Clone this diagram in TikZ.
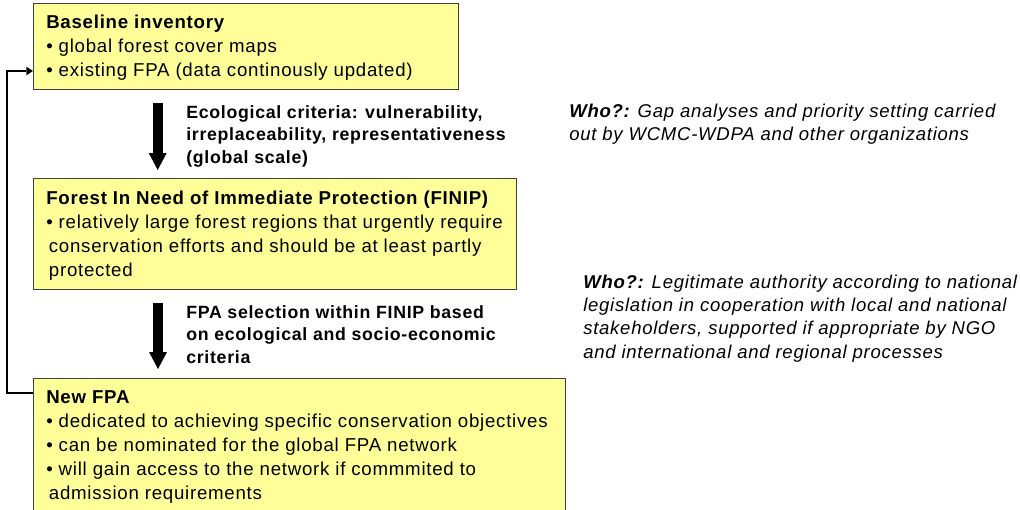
\documentclass[tikz,border=0pt]{standalone}
\usepackage{fontspec}
\setmainfont{Liberation Sans}[LetterSpace=4]
\usetikzlibrary{arrows.meta,calc}
\definecolor{boxfill}{RGB}{255,255,153}
\definecolor{boxline}{RGB}{64,64,64}
\begin{document}
\begin{tikzpicture}[x=0.75pt,y=-0.75pt,
  box/.style={draw=boxline, line width=0.9pt, fill=boxfill, anchor=north west, inner sep=0pt},
  boxtext/.style={anchor=base west, inner sep=0pt, font=\fontsize{14pt}{18pt}\selectfont},
  lbltext/.style={anchor=base west, inner sep=0pt, font=\bfseries\fontsize{13.3pt}{17pt}\selectfont},
  whotext/.style={anchor=base west, inner sep=0pt, font=\itshape\fontsize{13.9pt}{17.5pt}\selectfont},
  bigarrow/.style={line width=7.5pt, -{Triangle[length=12.75pt, width=13.5pt, line width=0pt]}},
  fbline/.style={line width=1.5pt, -{Triangle[length=5pt, width=6.5pt, line width=0pt]}}]
\useasboundingbox (0,0) rectangle (1020,510);
\clip (0,0) rectangle (1020,510);

% boxes
\node[box, minimum width=318.75pt, minimum height=64.5pt] (b1) at (33,3) {};
\node[box, minimum width=362.25pt, minimum height=83.25pt] (b2) at (33,178) {};
\node[box, minimum width=399pt, minimum height=106.5pt] (b3) at (33,378) {};

% box texts
\node[boxtext] (t1) at (46,28.5) {\begin{tabular}[t]{@{}l@{}}
\textbf{Baseline inventory}\\
• global forest cover maps\\
• existing FPA (data continously updated)
\end{tabular}};
\node[boxtext] (t2) at (46,204) {\begin{tabular}[t]{@{}l@{}}
\textbf{Forest In Need of Immediate Protection (FINIP)}\\
• relatively large forest regions that urgently require\\
\hspace*{2pt}conservation efforts and should be at least partly\\
\hspace*{2pt}protected
\end{tabular}};
\node[boxtext] (t3) at (46,403) {\begin{tabular}[t]{@{}l@{}}
\textbf{New FPA}\\
• dedicated to achieving specific conservation objectives\\
• can be nominated for the global FPA network\\
• will gain access to the network if commmited to\\
\hspace*{2pt}admission requirements
\end{tabular}};

% big arrows
\coordinate (a1s) at (157.7,103);
\coordinate (a1e) at (157.7,170);
\coordinate (a2s) at (158,303);
\coordinate (a2e) at (158,369);
\draw[bigarrow] (a1s) -- (a1e);
\draw[bigarrow] (a2s) -- (a2e);

% arrow labels
\node[lbltext] (l1) at (186,118) {\begin{tabular}[t]{@{}l@{}}
Ecological criteria: vulnerability,\\
irreplaceability, representativeness\\
(global scale)
\end{tabular}};
\node[lbltext] (l2) at (186,318) {\begin{tabular}[t]{@{}l@{}}
FPA selection within FINIP based\\
on ecological and socio-economic\\
criteria
\end{tabular}};

% who texts
\node[whotext, font=\itshape\fontsize{13.9pt}{17.25pt}\selectfont] (w1) at (569,117) {\begin{tabular}[t]{@{}l@{}}
\textbf{Who?:} Gap analyses and priority setting carried\\
out by WCMC-WDPA and other organizations
\end{tabular}};
\node[whotext, font=\itshape\fontsize{13.9pt}{17.6pt}\selectfont] (w2) at (583,288) {\begin{tabular}[t]{@{}l@{}}
\textbf{Who?:} Legitimate authority according to national\\
legislation in cooperation with local and national\\
stakeholders, supported if appropriate by NGO\\
and international and regional processes
\end{tabular}};

% feedback connector
\coordinate (fbc) at (7,71);
\draw[fbline] ([yshift=-11.25pt]b3.north west) -| (fbc) -- ([yshift=-51pt]b1.north west);
\end{tikzpicture}
\end{document}
